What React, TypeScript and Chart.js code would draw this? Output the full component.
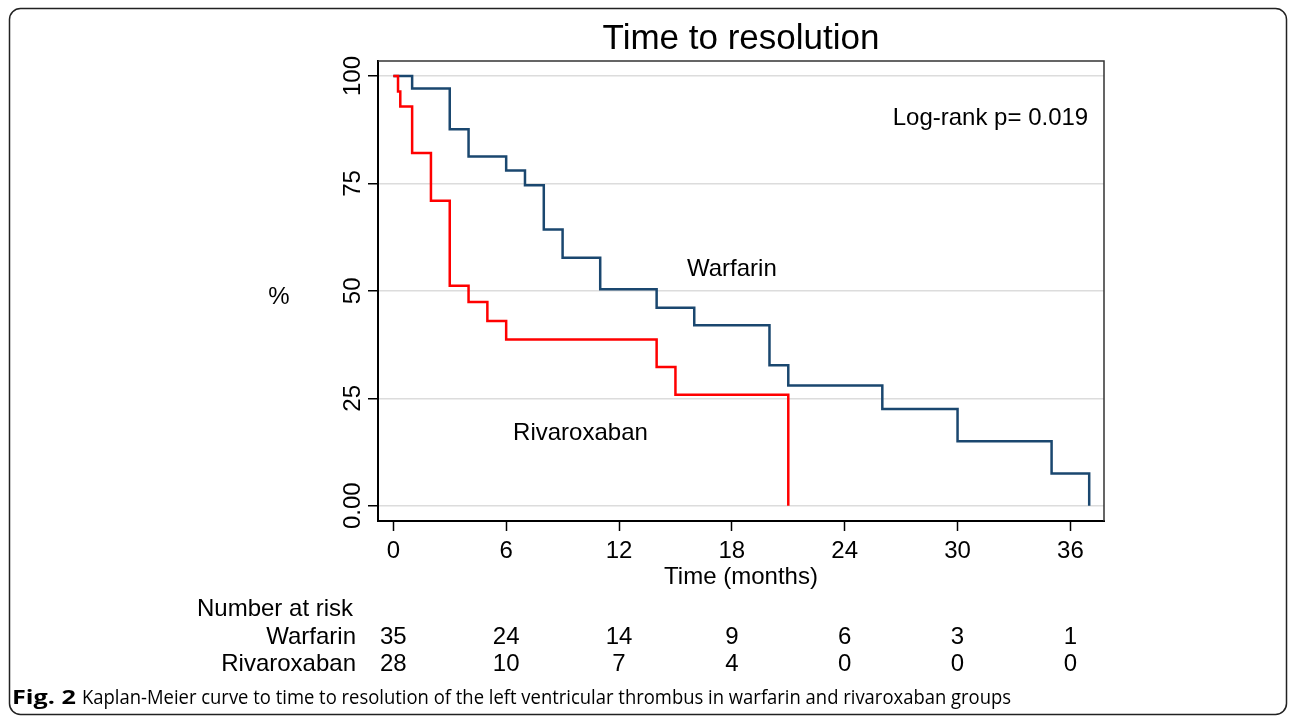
import React, { useEffect, useRef } from "react";
import { Chart, registerables } from "chart.js";

Chart.register(...registerables);

// ---- Data ----
const warfarinTimes = [0, 1, 3, 4, 6, 7, 8, 9, 11, 14, 16, 20, 21, 26, 30, 35, 37];
const warfarinSurvival = [100, 97.1, 87.6, 81.3, 78.0, 74.6, 64.3, 57.7, 50.4, 46.1, 42.0, 32.7, 28.0, 22.5, 15.0, 7.5, 0];
const rivaroxabanTimes = [0, 0.25, 0.37, 1, 2, 3, 4, 5, 6, 14, 15, 21];
const rivaroxabanSurvival = [100, 96.4, 92.9, 82.1, 71.0, 51.2, 47.4, 43.0, 38.7, 32.3, 25.8, 0];

const xTicks = [0, 6, 12, 18, 24, 30, 36];
const yTicks = [0, 25, 50, 75, 100];
const yTickLabels = ["0.00", "25", "50", "75", "100"];

const groupNames = ["Warfarin", "Rivaroxaban"];
const warfarinAtRisk = [35, 24, 14, 9, 6, 3, 1];
const rivaroxabanAtRisk = [28, 10, 7, 4, 0, 0, 0];

const titleText = "Time to resolution";
const xTitle = "Time (months)";
const yTitle = "%";
const pValueText = "Log-rank p= 0.019";
const atRiskHeader = "Number at risk";
const captionBold = "Fig. 2";
const captionText = "Kaplan-Meier curve to time to resolution of the left ventricular thrombus in warfarin and rivaroxaban groups";

// annotation anchors in data coordinates [x (months), y (%)]
const pValuePos = [31.75, 90.2];
const warfarinLabelPos = [18, 55.1];
const rivaroxabanLabelPos = [9.95, 16.9];

const FONT = '"Liberation Sans", Arial, sans-serif';

const overlayPlugin = {
  id: "overlay",
  afterDraw(chart: any) {
    const ctx = chart.ctx as CanvasRenderingContext2D;
    const area = chart.chartArea;
    const xs = chart.scales.x;
    const ys = chart.scales.y;
    ctx.save();

    // outer figure frame
    ctx.strokeStyle = "#222";
    ctx.lineWidth = 1.5;
    ctx.beginPath();
    (ctx as any).roundRect(9.5, 8.5, 1277, 706, 11);
    ctx.stroke();

    // top and right plot border
    ctx.strokeStyle = "#333";
    ctx.lineWidth = 1.5;
    ctx.beginPath();
    ctx.moveTo(area.left, area.top);
    ctx.lineTo(area.right, area.top);
    ctx.lineTo(area.right, area.bottom);
    ctx.stroke();

    ctx.fillStyle = "#000";
    ctx.textBaseline = "middle";

    // y tick labels (rotated)
    ctx.font = `24px ${FONT}`;
    ctx.textAlign = "center";
    yTicks.forEach((v, i) => {
      const y = ys.getPixelForValue(v);
      ctx.save();
      ctx.translate(353, y);
      ctx.rotate(-Math.PI / 2);
      ctx.fillText(yTickLabels[i], 0, 0);
      ctx.restore();
    });

    // title
    ctx.font = `35px ${FONT}`;
    ctx.fillText(titleText, (area.left + area.right) / 2, 39);

    // axis titles
    ctx.font = `24px ${FONT}`;
    ctx.fillText(xTitle, (area.left + area.right) / 2, 577);
    ctx.fillText(yTitle, 279, 297);

    // annotations
    ctx.fillText(pValueText, xs.getPixelForValue(pValuePos[0]), ys.getPixelForValue(pValuePos[1]));
    ctx.fillText(groupNames[0], xs.getPixelForValue(warfarinLabelPos[0]), ys.getPixelForValue(warfarinLabelPos[1]));
    ctx.fillText(groupNames[1], xs.getPixelForValue(rivaroxabanLabelPos[0]), ys.getPixelForValue(rivaroxabanLabelPos[1]));

    // number at risk table
    ctx.textAlign = "left";
    ctx.fillText(atRiskHeader, 197, 609);
    ctx.textAlign = "right";
    ctx.fillText(groupNames[0], 356, 637);
    ctx.fillText(groupNames[1], 356, 664);
    ctx.textAlign = "center";
    xTicks.forEach((t, i) => {
      const x = xs.getPixelForValue(t);
      ctx.fillText(String(warfarinAtRisk[i]), x, 637);
      ctx.fillText(String(rivaroxabanAtRisk[i]), x, 664);
    });

    // caption
    ctx.textAlign = "left";
    ctx.textBaseline = "alphabetic";
    const boldFont = `bold 20px "Open Sans", sans-serif`;
    const regFont = `20px "Open Sans", sans-serif`;
    ctx.font = boldFont;
    const wb = ctx.measureText(captionBold).width;
    ctx.save();
    ctx.translate(12, 704);
    ctx.scale(64 / wb, 1);
    ctx.fillText(captionBold, 0, 0);
    ctx.restore();
    ctx.font = regFont;
    const wr = ctx.measureText(captionText).width;
    ctx.save();
    ctx.translate(82, 704);
    ctx.scale(929 / wr, 1);
    ctx.fillText(captionText, 0, 0);
    ctx.restore();

    ctx.restore();
  },
};

export default function App() {
  const ref = useRef<HTMLCanvasElement>(null);

  useEffect(() => {
    const canvas = ref.current;
    if (!canvas) return;
    const chart = new Chart(canvas, {
      type: "line",
      data: {
        datasets: [
          {
            label: groupNames[0],
            data: warfarinTimes.map((t, i) => ({ x: t, y: warfarinSurvival[i] })),
            borderColor: "#1a476f",
            borderWidth: 2.5,
            stepped: true,
            pointRadius: 0,
            fill: false,
            order: 1,
          },
          {
            label: groupNames[1],
            data: rivaroxabanTimes.map((t, i) => ({ x: t, y: rivaroxabanSurvival[i] })),
            borderColor: "#ff0000",
            borderWidth: 2.5,
            stepped: true,
            pointRadius: 0,
            fill: false,
            order: 0,
          },
        ],
      },
      options: {
        responsive: false,
        animation: false,
        devicePixelRatio: 1,
        layout: { padding: { left: 0, top: 61, right: 188, bottom: 0 } },
        plugins: {
          legend: { display: false },
          tooltip: { enabled: false },
          title: { display: false },
        },
        scales: {
          x: {
            type: "linear",
            min: -0.815,
            max: 37.787,
            afterBuildTicks: (scale: any) => {
              scale.ticks = xTicks.map((v) => ({ value: v }));
            },
            afterFit: (scale: any) => {
              scale.height = 196;
            },
            ticks: {
              font: { size: 24, family: FONT },
              color: "#000",
              padding: 6,
              maxRotation: 0,
              minRotation: 0,
              autoSkip: false,
            },
            grid: {
              drawOnChartArea: false,
              drawTicks: true,
              tickLength: 10,
              tickColor: "#000",
              tickWidth: 1.5,
            },
            border: { display: true, color: "#000", width: 2 },
          },
          y: {
            type: "linear",
            min: -3.56,
            max: 103.5,
            afterBuildTicks: (scale: any) => {
              scale.ticks = yTicks.map((v) => ({ value: v }));
            },
            afterFit: (scale: any) => {
              scale.width = 378;
            },
            ticks: { display: false },
            grid: {
              color: "#dcdcdc",
              lineWidth: 1.5,
              drawTicks: true,
              tickLength: 10,
              tickColor: "#000",
              tickWidth: 1.5,
            },
            border: { display: true, color: "#000", width: 2 },
          },
        },
      },
      plugins: [overlayPlugin],
    } as any);
    return () => chart.destroy();
  }, []);

  return (
    <div style={{ position: "fixed", left: 0, top: 0, width: 1292, height: 717, background: "#fff" }}>
      <canvas ref={ref} width={1292} height={717} style={{ display: "block", width: 1292, height: 717 }} />
    </div>
  );
}
